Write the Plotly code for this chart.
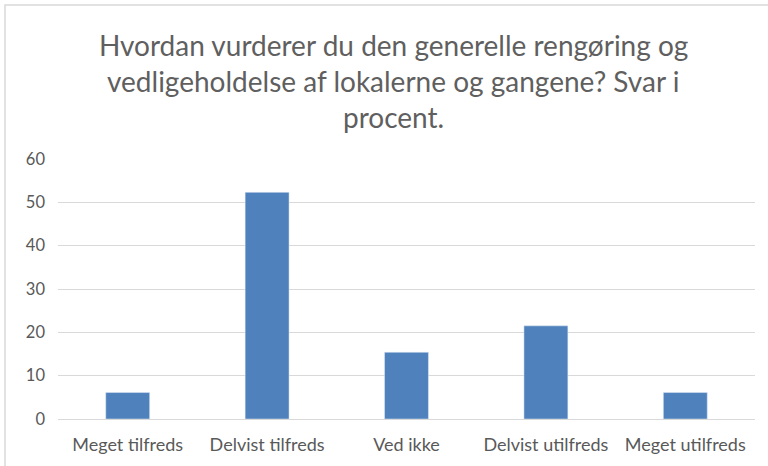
import plotly.graph_objects as go

categories = ["Meget tilfreds", "Delvist tilfreds", "Ved ikke", "Delvist utilfreds", "Meget utilfreds"]
values = [6.1, 52.3, 15.4, 21.5, 6.1]
y_ticks = [0, 10, 20, 30, 40, 50, 60]
title_lines = [
    "Hvordan vurderer du den generelle rengøring og",
    "vedligeholdelse af lokalerne og gangene? Svar i",
    "procent.",
]

W, H = 768, 466
plot_left, plot_right, plot_top, plot_bottom = 58, 755, 159, 419
L = plot_left
R = W - plot_right
T = plot_top
B = H - plot_bottom
pw, ph = W - L - R, H - T - B

def px_x(sx):
    return (sx - L) / pw

def px_y(sy):
    return (H - B - sy) / ph

fig = go.Figure(go.Bar(
    x=categories, y=values, marker_color="#4f81bd", width=0.315,
    hoverinfo="x+y",
))

font_family = "Lato, Open Sans, sans-serif"
annotations = []
line_centers = [45, 81, 117]
for line, yc in zip(title_lines, line_centers):
    annotations.append(dict(
        text=line, xref="paper", yref="paper",
        x=px_x(393), y=px_y(yc),
        xanchor="center", yanchor="middle", showarrow=False,
        font=dict(family=font_family, size=28, color="#5f5f5f"),
    ))

fig.update_layout(
    width=W, height=H,
    margin=dict(l=L, r=R, t=T, b=B),
    paper_bgcolor="white", plot_bgcolor="white",
    showlegend=False,
    annotations=annotations,
    shapes=[dict(
        type="rect", xref="paper", yref="paper",
        x0=px_x(5), x1=px_x(800),
        y0=px_y(500), y1=px_y(5),
        line=dict(color="#d9d9d9", width=1.5), fillcolor="rgba(0,0,0,0)",
        layer="below",
    )],
    xaxis=dict(
        showgrid=False, showline=True, linecolor="#d9d9d9", linewidth=1,
        ticks="", ticklabelstandoff=9,
        tickfont=dict(family=font_family, size=18, color="#595959"),
        fixedrange=True,
    ),
    yaxis=dict(
        range=[0, 60], tickvals=y_ticks, showgrid=True, gridcolor="#d9d9d9",
        gridwidth=1, zeroline=False, showline=False, ticks="",
        ticklabelstandoff=12,
        tickfont=dict(family=font_family, size=16.5, color="#595959"),
        fixedrange=True,
    ),
)

fig.write_html(
    "out.html",
    config={"displayModeBar": False},
    post_script="document.body.style.margin='0';document.body.style.overflow='hidden';",
)
